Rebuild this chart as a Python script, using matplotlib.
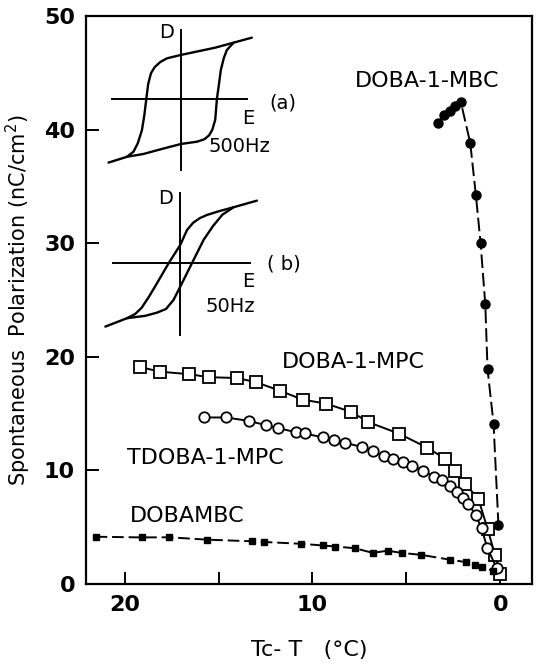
import numpy as np
import matplotlib
matplotlib.use('Agg')
import matplotlib.pyplot as plt

# DOBA-1-MBC (filled circles)
mbc_x = [3.3, 3.0, 2.7, 2.4, 2.1, 1.6, 1.3, 1.05, 0.8, 0.68, 0.36, 0.1]
mbc_y = [40.6, 41.3, 41.6, 42.1, 42.4, 38.8, 34.2, 30.0, 24.6, 18.9, 14.1, 5.2]

# DOBA-1-MPC (open squares)
mpc_x = [19.17, 18.12, 16.55, 15.53, 14.0, 13.0, 11.72, 10.53, 9.3, 7.93, 7.03,
         5.4, 3.88, 2.92, 2.39, 1.87, 1.17, 0.68, 0.29, 0.0]
mpc_y = [19.09, 18.68, 18.46, 18.2, 18.12, 17.75, 17.0, 16.22, 15.88, 15.14, 14.24,
         13.23, 11.98, 11.0, 9.9, 8.8, 7.5, 4.85, 2.58, 0.87]

# TDOBA-1-MPC (open circles)
tmpc_x = [15.77, 14.6, 13.4, 12.5, 11.86, 10.87, 10.42, 9.46, 8.84, 8.25, 7.36,
          6.77, 6.2, 5.7, 5.2, 4.7, 4.1, 3.55, 3.12, 2.7, 2.32, 2.0, 1.7,
          1.32, 1.0, 0.7, 0.2]
tmpc_y = [14.65, 14.65, 14.35, 13.98, 13.72, 13.35, 13.24, 12.9, 12.68, 12.42, 12.04,
          11.67, 11.25, 10.98, 10.7, 10.4, 9.95, 9.45, 9.18, 8.6, 8.05, 7.6, 7.05,
          6.07, 4.9, 3.2, 1.4]

# DOBAMBC (filled squares)
dmbc_x = [21.55, 19.1, 17.62, 15.6, 13.22, 12.6, 10.62, 9.45, 8.8, 7.75, 6.79,
          6.0, 5.26, 4.2, 2.68, 1.82, 1.33, 0.96, 0.4]
dmbc_y = [4.15, 4.09, 4.1, 3.89, 3.75, 3.69, 3.53, 3.38, 3.29, 3.14, 2.73,
          2.92, 2.73, 2.55, 2.13, 1.91, 1.64, 1.46, 1.15]

# hysteresis loop sketches (a) 500Hz and (b) 50Hz, read in data units
loop_a_up_x = [13.23, 14.2, 15.2, 16.2, 17.0, 17.75, 18.1, 18.4, 18.6, 18.75, 18.85,
               18.95, 19.08, 19.3, 19.53, 19.88]
loop_a_up_y = [48.09, 47.65, 47.2, 46.85, 46.57, 46.27, 45.95, 45.5, 44.96, 44.0, 42.69,
               41.3, 39.96, 38.8, 38.05, 37.6]
loop_a_lo_x = [20.86, 19.88, 19.0, 18.0, 17.0, 16.15, 15.75, 15.5, 15.33, 15.18, 15.09,
               14.98, 14.88, 14.72, 14.56, 14.2]
loop_a_lo_y = [37.09, 37.6, 37.85, 38.3, 38.73, 38.93, 39.15, 39.5, 40.0, 40.85, 42.69,
               44.0, 45.25, 46.3, 47.0, 47.65]
loop_b_up_x = [12.96, 14.2, 15.0, 15.62, 16.0, 16.35, 16.68, 17.04, 17.66, 18.28,
               18.7, 19.1, 19.45, 19.88]
loop_b_up_y = [33.74, 33.16, 32.8, 32.48, 32.2, 31.8, 31.16, 29.84, 28.23, 26.47,
               25.3, 24.3, 23.75, 23.39]
loop_b_lo_x = [21.03, 19.88, 18.9, 18.28, 17.8, 17.4, 17.04, 16.42, 15.8, 15.3,
               14.8, 14.2]
loop_b_lo_y = [22.65, 23.39, 23.6, 23.88, 24.2, 25.0, 26.17, 28.23, 30.28, 31.5,
               32.5, 33.16]

plt.rcParams['font.family'] = ['DejaVu Sans']

fig = plt.figure(figsize=(5.42, 6.65), dpi=100)
ax = fig.add_axes([0.159, 0.122, 0.823, 0.854])

lw = 1.4
ax.plot(mbc_x, mbc_y, color='black', lw=lw, dashes=(7, 2.5),
        marker='o', ms=6.5, mfc='black', mec='black')
ax.plot(mpc_x, mpc_y, color='black', lw=lw, marker='s', ms=8,
        mfc='white', mec='black', mew=1.3)
ax.plot(tmpc_x, tmpc_y, color='black', lw=lw, marker='o', ms=7.5,
        mfc='white', mec='black', mew=1.3)
ax.plot(dmbc_x, dmbc_y, color='black', lw=lw, dashes=(6, 2.5),
        marker='s', ms=4.5, mfc='black', mec='black')

# inset loops
for xs, ys in [(loop_a_up_x, loop_a_up_y), (loop_a_lo_x, loop_a_lo_y),
               (loop_b_up_x, loop_b_up_y), (loop_b_lo_x, loop_b_lo_y)]:
    ax.plot(xs, ys, color='black', lw=1.7, solid_capstyle='round', solid_joinstyle='round')
ax.plot([17.0, 17.0], [48.77, 36.44], color='black', lw=1.4)
ax.plot([20.68, 13.49], [42.69, 42.69], color='black', lw=1.4)
ax.plot([17.04, 17.04], [34.39, 21.92], color='black', lw=1.4)
ax.plot([20.62, 13.31], [28.23, 28.23], color='black', lw=1.4)

fs = 14
ax.text(17.75, 48.5, 'D', fontsize=fs, ha='center', va='center')
ax.text(13.4, 41.0, 'E', fontsize=fs, ha='center', va='center')
ax.text(15.55, 38.5, '500Hz', fontsize=fs, ha='left', va='center')
ax.text(11.6, 42.3, '(a)', fontsize=fs, ha='center', va='center')
ax.text(17.8, 33.95, 'D', fontsize=fs, ha='center', va='center')
ax.text(13.4, 26.6, 'E', fontsize=fs, ha='center', va='center')
ax.text(15.7, 24.4, '50Hz', fontsize=fs, ha='left', va='center')
ax.text(11.5, 28.2, '( b)', fontsize=fs, ha='center', va='center')

lfs = 16
ax.text(3.9, 44.3, 'DOBA-1-MBC', fontsize=lfs, ha='center', va='center')
ax.text(7.85, 19.5, 'DOBA-1-MPC', fontsize=lfs, ha='center', va='center')
ax.text(15.7, 11.1, 'TDOBA-1-MPC', fontsize=lfs, ha='center', va='center')
ax.text(16.65, 5.94, 'DOBAMBC', fontsize=lfs, ha='center', va='center')

ax.set_xlim(22.05, -1.7)
ax.set_ylim(0, 50)
ax.set_xticks([20, 10, 0])
ax.set_xticks([15, 5], minor=True)
ax.set_yticks([0, 10, 20, 30, 40, 50])
ax.tick_params(direction='in', length=9, width=1.4, labelsize=16, pad=8)
ax.tick_params(which='minor', direction='in', length=9, width=1.4)
for lab in ax.get_xticklabels() + ax.get_yticklabels():
    lab.set_fontweight('bold')
for sp in ax.spines.values():
    sp.set_linewidth(1.6)

ax.set_xlabel('Tc- T   (°C)', fontsize=16, labelpad=18)
ax.set_ylabel('Spontaneous  Polarization (nC/cm$^2$)', fontsize=15, labelpad=8)

fig.savefig('out.png', dpi=100)
